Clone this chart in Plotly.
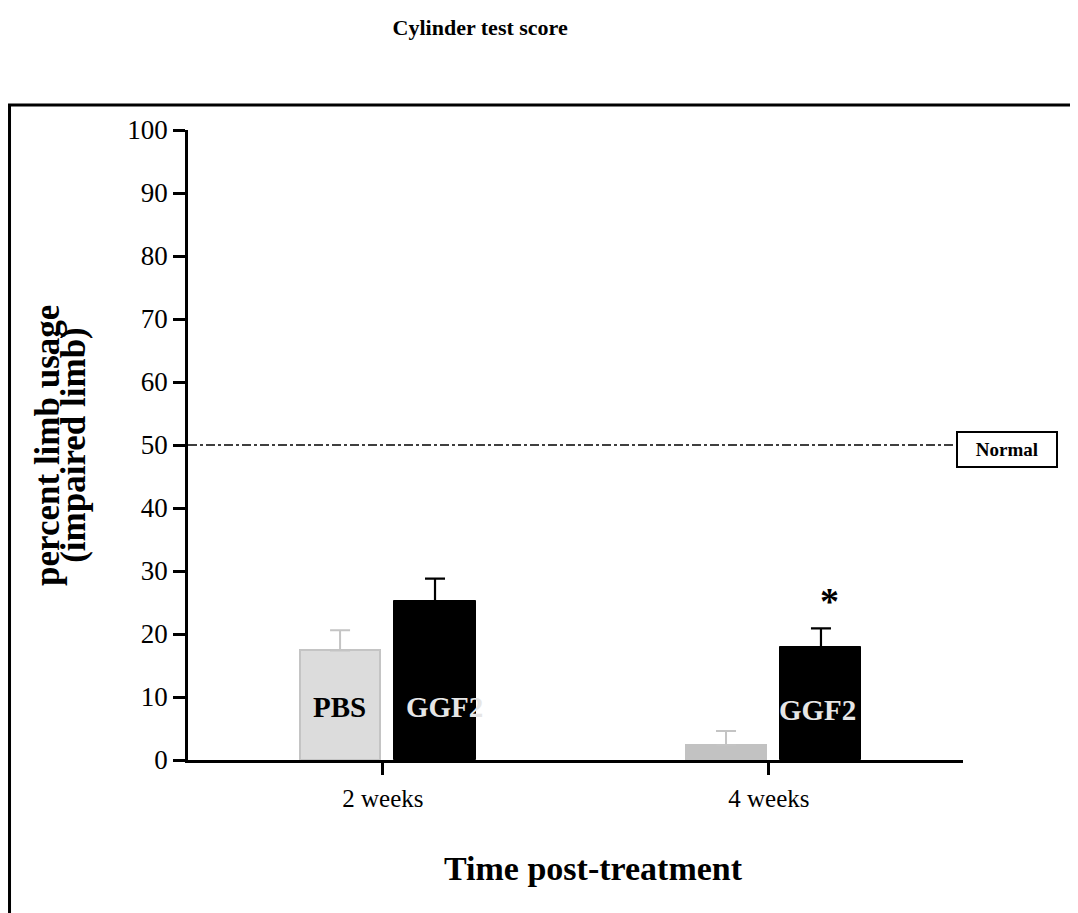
import plotly.graph_objects as go

categories = ["2 weeks", "4 weeks"]
pbs_mean = [17.4, 2.4]
pbs_err = [3.2, 2.2]
ggf2_mean = [25.2, 17.9]
ggf2_err = [3.6, 3.0]
y_ticks = list(range(0, 101, 10))
normal_level = 50

FONT = "Liberation Serif"

fig = go.Figure()
fig.add_trace(go.Bar(
    x=categories, y=pbs_mean, name="PBS",
    width=0.208, offset=-0.215,
    marker=dict(color=["#dcdcdc", "#c2c2c2"],
                line=dict(color=["#c4c4c4", "#c2c2c2"], width=2)),
    error_y=dict(type="data", array=pbs_err, arrayminus=[0, 0], symmetric=False,
                 color="#c4c4c4", thickness=2, width=10),
    showlegend=False,
))
fig.add_trace(go.Bar(
    x=categories, y=ggf2_mean, name="GGF2",
    width=0.21, offset=0.03,
    marker=dict(color="black", line=dict(color="black", width=1)),
    error_y=dict(type="data", array=ggf2_err, arrayminus=[0, 0], symmetric=False,
                 color="black", thickness=2.2, width=10),
    showlegend=False,
))

# Bar labels
fig.add_annotation(x=categories[0], y=8.4, xref="x", yref="y", text="<b>PBS</b>",
                   showarrow=False, xshift=-43, font=dict(family=FONT, size=29, color="black"))
fig.add_annotation(x=categories[0], y=8.4, xref="x", yref="y", text="<b>GGF2</b>",
                   showarrow=False, xshift=62, font=dict(family=FONT, size=29, color="#e6e6e6"))
fig.add_annotation(x=categories[1], y=8.0, xref="x", yref="y", text="<b>GGF2</b>",
                   showarrow=False, xshift=49, font=dict(family=FONT, size=29, color="#e6e6e6"))
fig.add_annotation(x=categories[1], y=ggf2_mean[1] + ggf2_err[1] + 4.3, xref="x", yref="y",
                   text="<b>*</b>", showarrow=False, xshift=61,
                   font=dict(family=FONT, size=38, color="black"))

# Normal line & box
fig.add_shape(type="line", xref="paper", yref="y", x0=0, x1=0.996,
              y0=normal_level, y1=normal_level,
              line=dict(color="black", width=1.5, dash="dashdot"))
fig.add_annotation(xref="paper", yref="y", x=1.0567, y=normal_level, text="<b>Normal</b>",
                   xanchor="center", yanchor="middle", yshift=-4,
                   showarrow=False, width=96, height=31, bordercolor="black", borderwidth=2,
                   bgcolor="white", font=dict(family=FONT, size=19, color="black"))

# Y axis title (two rotated lines)
fig.add_annotation(xref="paper", yref="paper", x=-0.182, y=0.5, text="<b>percent limb usage</b>",
                   textangle=-90, showarrow=False, xanchor="center", yanchor="middle",
                   font=dict(family=FONT, size=35, color="black"))
fig.add_annotation(xref="paper", yref="paper", x=-0.1486, y=0.5, text="<b>(impaired limb)</b>",
                   textangle=-90, showarrow=False, xanchor="center", yanchor="middle",
                   font=dict(family=FONT, size=35, color="black"))

# X axis title
fig.add_annotation(xref="paper", yref="paper", x=0.5226, y=-0.173, text="<b>Time post-treatment</b>",
                   showarrow=False, xanchor="center", yanchor="middle",
                   font=dict(family=FONT, size=34, color="black"))

# Outer frame
fig.add_shape(type="path", xref="paper", yref="paper",
              path="M -0.2303,-0.35 L -0.2303,1.0397 L 1.2,1.0397",
              line=dict(color="black", width=3))

fig.update_layout(
    width=1078, height=913,
    margin=dict(l=180, r=123, t=122, b=161),
    plot_bgcolor="white", paper_bgcolor="white",
    title=dict(text="<b>Cylinder test score</b>", x=0.438, xanchor="center", y=0.979, yanchor="middle",
               font=dict(family=FONT, size=22, color="black")),
    font=dict(family=FONT, color="black"),
    bargap=0, barmode="group",
)
fig.update_xaxes(
    range=[-0.505, 1.503], showline=True, linecolor="black", linewidth=2.5,
    ticks="outside", ticklen=12, tickwidth=2.5, tickcolor="black",
    tickfont=dict(family=FONT, size=25, color="black"), ticklabelstandoff=2,
    showgrid=False, zeroline=False,
)
fig.update_yaxes(
    range=[0, 100], tickvals=y_ticks, showline=True, linecolor="black", linewidth=2.5,
    ticks="outside", ticklen=12, tickwidth=2.5, tickcolor="black",
    tickfont=dict(family=FONT, size=27, color="black"),
    showgrid=False, zeroline=False,
)

fig.write_html("out.html")
